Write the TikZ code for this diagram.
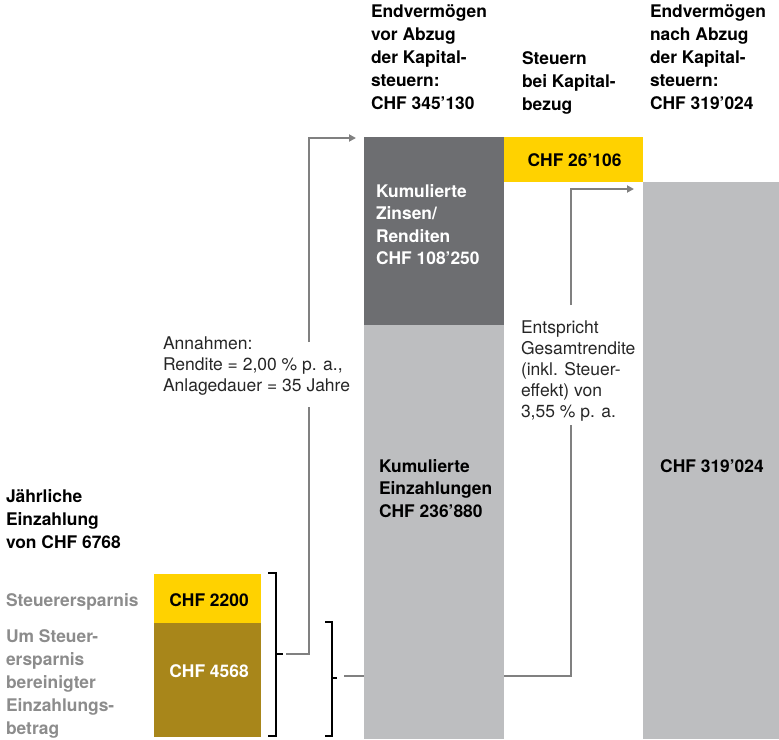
\documentclass[tikz,border=0pt]{standalone}
\usepackage{fontspec}
\setmainfont{TeX Gyre Heros}
\usetikzlibrary{arrows.meta}
\definecolor{ylw}{HTML}{FFD200}
\definecolor{barolive}{HTML}{A8861A}
\definecolor{dgray}{HTML}{6D6E71}
\definecolor{lgray}{HTML}{BDBEC0}
\definecolor{lngray}{HTML}{808080}
\definecolor{txtgray}{HTML}{8C8C8C}
\definecolor{notetxt}{HTML}{262626}
\begin{document}
\begin{tikzpicture}[x=1pt,y=-1pt,
  bar/.style={inner sep=0pt, outer sep=0pt, draw=none, anchor=north west},
  head/.style={font=\fontsize{17.4}{23}\selectfont\bfseries, align=left, anchor=north west, inner sep=0pt, outer sep=0pt},
  inlbl/.style={font=\fontsize{17.4}{22.5}\selectfont\bfseries, align=left, anchor=north west, inner sep=0pt, outer sep=0pt},
  note/.style={font=\fontsize{17.5}{21}\selectfont, text=notetxt, align=left, anchor=north west, inner sep=0pt, outer sep=0pt},
  val/.style={font=\fontsize{17.4}{22}\selectfont\bfseries, anchor=base, inner sep=0pt},
  conn/.style={draw=lngray, line width=2pt},
  tip/.style={-{Triangle[length=7pt,width=7pt]}},
  brk/.style={draw=black, line width=2pt}]
\useasboundingbox (0,0) rectangle (779,739);

% connector 2 (behind the bars)
\coordinate (c2s) at (344,676);
\coordinate (c2a) at (571,676);
\coordinate (c2b) at (571,425);
\coordinate (c2c) at (571,305);
\coordinate (c2d) at (571,189);
\coordinate (c2e) at (634,189);
\draw[conn] (c2s) -- (c2a) -- (c2b);
\draw[conn,tip] (c2c) -- (c2d) -- (c2e);

% bars
\node[bar, fill=ylw, minimum width=107pt, minimum height=49pt] (ss) at (154,574) {};
\node[bar, fill=barolive, minimum width=107pt, minimum height=114pt] (eb) at (154,623) {};
\node[bar, fill=dgray, minimum width=140pt, minimum height=188pt] (zins) at (364,137) {};
\node[bar, fill=lgray, minimum width=140pt, minimum height=414pt] (einz) at (364,325) {};
\node[bar, fill=ylw, minimum width=139pt, minimum height=45pt] (steuer) at (504,137) {};
\node[bar, fill=lgray, minimum width=136pt, minimum height=557pt] (endb) at (643,182) {};

% values in bars
\node[val] (v2200) at (209,606) {CHF 2200};
\node[val, text=white] (v4568) at (209,677) {CHF 4568};
\node[val] (v26106) at (574.5,166) {CHF 26’106};
\node[val, anchor=base west] (v319) at (660,472) {CHF 319’024};
\node[inlbl, text=white] (tzins) at (376,184) {\rule{0pt}{13pt}Kumulierte\\Zinsen/\\Renditen\\CHF 108’250};
\node[inlbl] (teinz) at (379,459) {\rule{0pt}{13pt}Kumulierte\\Einzahlungen\\CHF 236’880};

% headers
\node[head] (h1) at (371,4.5) {\rule{0pt}{13pt}Endvermögen\\vor Abzug\\der Kapital-\\steuern:\\CHF 345’130};
\node[head] (h2) at (522,51) {\rule{0pt}{13pt}Steuern\\bei Kapital-\\bezug};
\node[head] (h3) at (650,4.5) {\rule{0pt}{13pt}Endvermögen\\nach Abzug\\der Kapital-\\steuern:\\CHF 319’024};

% left labels
\node[head] (jahr) at (6,489) {\rule{0pt}{13pt}Jährliche\\Einzahlung\\von CHF 6768};
\node[head, text=txtgray] (lss) at (6,593) {\rule{0pt}{13pt}Steuerersparnis};
\node[head, text=txtgray] (leb) at (6,629) {\rule{0pt}{13pt}Um Steuer-\\ersparnis\\bereinigter\\Einzahlungs-\\betrag};

% notes
\node[note] (ann) at (163,336) {\rule{0pt}{13pt}Annahmen:\\Rendite = 2,00 \% p. a.,\\Anlagedauer = 35 Jahre};
\node[note] (ges) at (521,320) {\rule{0pt}{13pt}Entspricht\\Gesamtrendite\\(inkl. Steuer-\\effekt) von\\3,55 \% p. a.};

% brackets
\draw[brk] (268,573) -- (276,573) -- (276,736) -- (268,736);
\draw[brk] (276,654) -- (283,654);
\draw[brk] (325,622) -- (332,622) -- (332,736) -- (325,736);
\draw[brk] (332,678) -- (337,678);

% connector 1
\coordinate (c1s) at (286,654);
\coordinate (c1a) at (309,654);
\coordinate (c1b) at (309,407);
\coordinate (c1c) at (309,342);
\coordinate (c1d) at (309,138);
\coordinate (c1e) at (356,138);
\draw[conn] (c1s) -- (c1a) -- (c1b);
\draw[conn,tip] (c1c) -- (c1d) -- (c1e);
\end{tikzpicture}
\end{document}
